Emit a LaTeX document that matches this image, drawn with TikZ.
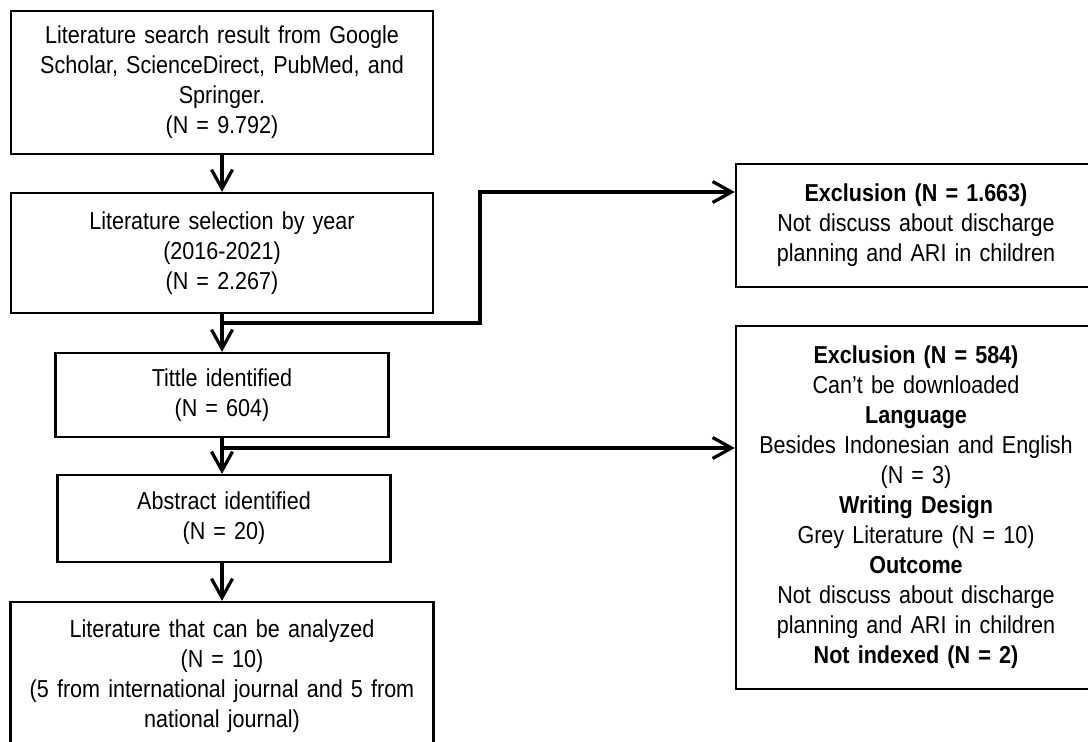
\documentclass[tikz,border=0pt]{standalone}
\usepackage{fontspec}
\setmainfont{Liberation Sans}[FakeStretch=0.88]
\usetikzlibrary{arrows.meta}
\newcommand{\boxfont}{\fontsize{24.5}{30}\selectfont\spaceskip=0.2em\relax}
\tikzset{
  box/.style={draw=black, line width=2.2pt, fill=white, align=center, inner sep=0pt,
    font=\boxfont},
  conn/.style={line width=3.2pt, line join=miter},
  arr/.style={conn, -{Straight Barb[length=19pt,width=21pt]}}
}
\begin{document}
\begin{tikzpicture}[x=1pt,y=-1pt]
\useasboundingbox (0,0) rectangle (1088,742);
\clip (0,0) rectangle (1088,742);
\fill[white] (0,0) rectangle (1088,742);

\node[box, minimum width=422pt, minimum height=143pt, text width=410pt] (b1) at (222,82.5)
  {Literature search result from Google\\Scholar, ScienceDirect, PubMed, and\\Springer.\\(N = 9.792)};
\node[box, minimum width=422pt, minimum height=120pt, text width=410pt] (b2) at (222,253)
  {Literature selection by year\\(2016-2021)\\(N = 2.267)};
\node[box, minimum width=333pt, minimum height=84pt, text width=320pt] (b3) at (222,395)
  {Tittle identified\\(N = 604)};
\node[box, minimum width=333pt, minimum height=87pt, text width=320pt] (b4) at (224,518.5)
  {Abstract identified\\(N = 20)};
\node[box, minimum width=423pt, minimum height=148pt, text width=410pt] (b5) at (222,676)
  {Literature that can be analyzed\\(N = 10)\\(5 from international journal and 5 from\\national journal)};

\node[box, minimum width=360pt, minimum height=123pt, text width=350pt] (r1) at (916,225.5)
  {\textbf{Exclusion (N = 1.663)}\\Not discuss about discharge\\planning and ARI in children};
\node[box, minimum width=360pt, minimum height=363pt, text width=350pt] (r2) at (916,507.5)
  {\textbf{Exclusion (N = 584)}\\Can’t be downloaded\\\textbf{Language}\\Besides Indonesian and English\\(N = 3)\\\textbf{Writing Design}\\Grey Literature (N = 10)\\\textbf{Outcome}\\Not discuss about discharge\\planning and ARI in children\\\textbf{Not indexed (N = 2)}};

\draw[arr] (b1.south) -- (b2.north);
\draw[arr] (b2.south) -- (b3.north);
\draw[arr] (b3.south) -- (b3.south |- b4.north);
\draw[arr] (b4.south -| b3.south) -- (b5.north);

\coordinate (j1) at (222,323);
\coordinate (k1) at (480,192);
\draw[arr] (j1) -| (k1) -- (k1 -| r1.west);

\coordinate (j2) at (222,448);
\draw[arr] (j2) -- (j2 -| r2.west);
\end{tikzpicture}
\end{document}
